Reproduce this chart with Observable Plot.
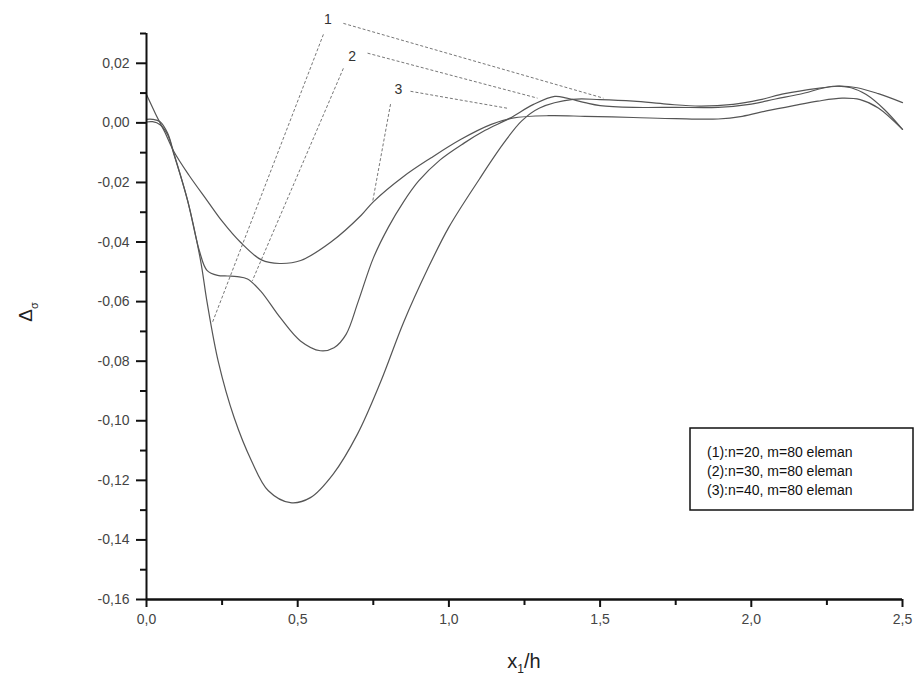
<!DOCTYPE html>
<html>
<head>
<meta charset="utf-8">
<script src="https://cdn.jsdelivr.net/npm/d3@7"></script>
<script src="https://cdn.jsdelivr.net/npm/@observablehq/plot@0.6"></script>
<style>
  html, body { margin: 0; padding: 0; background: #fff; }
  #chart svg { display: block; }
</style>
</head>
<body>
<div id="chart"></div>
<script>
// ---- data ----
const seriesNames = ["(1):n=20, m=80 eleman", "(2):n=30, m=80 eleman", "(3):n=40, m=80 eleman"];

const x1 = [0, 0.02, 0.045, 0.07, 0.09, 0.136, 0.179, 0.2, 0.238, 0.29, 0.347, 0.403, 0.476, 0.542, 0.618, 0.698, 0.774, 0.85, 0.93, 1.0, 1.1, 1.18, 1.24, 1.3, 1.41, 1.5, 1.61, 1.72, 1.83, 1.94, 2.03, 2.11, 2.22, 2.285, 2.35, 2.42, 2.5];
const y1 = [0.0003, 0.0004, -0.0006, -0.004, -0.0104, -0.0261, -0.0463, -0.060, -0.0804, -0.099, -0.1134, -0.1235, -0.1275, -0.1258, -0.1178, -0.1044, -0.087, -0.067, -0.049, -0.035, -0.019, -0.007, 0.0006, 0.005, 0.0079, 0.0078, 0.0073, 0.0063, 0.0056, 0.0062, 0.0078, 0.0098, 0.0116, 0.0123, 0.0118, 0.0098, 0.0068];

const x2 = [0, 0.02, 0.045, 0.07, 0.09, 0.136, 0.175, 0.2, 0.235, 0.268, 0.3, 0.334, 0.377, 0.443, 0.509, 0.575, 0.62, 0.66, 0.70, 0.75, 0.80, 0.85, 0.90, 0.97, 1.05, 1.12, 1.2, 1.28, 1.35, 1.39, 1.45, 1.5, 1.61, 1.75, 1.89, 2.0, 2.08, 2.16, 2.27, 2.33, 2.38, 2.44, 2.5];
const y2 = [0.0012, 0.0012, 0.0004, -0.0035, -0.010, -0.0261, -0.043, -0.0495, -0.0512, -0.0514, -0.0516, -0.0524, -0.0564, -0.0655, -0.0732, -0.0765, -0.0755, -0.071, -0.060, -0.0454, -0.035, -0.0265, -0.0195, -0.0125, -0.0068, -0.0025, 0.0015, 0.0062, 0.0089, 0.0083, 0.0068, 0.0058, 0.0052, 0.0052, 0.0052, 0.0063, 0.0080, 0.0096, 0.0123, 0.0118, 0.0095, 0.0045, -0.0022];

const x3 = [0, 0.03, 0.06, 0.09, 0.14, 0.2, 0.25, 0.31, 0.38, 0.44, 0.51, 0.61, 0.71, 0.75, 0.85, 0.94, 1.04, 1.14, 1.21, 1.33, 1.45, 1.61, 1.75, 1.89, 1.97, 2.05, 2.14, 2.22, 2.3, 2.36, 2.42, 2.5];
const y3 = [0.0095, 0.003, -0.003, -0.0095, -0.0175, -0.026, -0.033, -0.040, -0.046, -0.0472, -0.0462, -0.040, -0.031, -0.0265, -0.018, -0.0118, -0.0055, -0.0005, 0.0016, 0.0024, 0.0022, 0.0018, 0.0014, 0.0013, 0.0022, 0.004, 0.0058, 0.0073, 0.0083, 0.0078, 0.005, -0.0022];

// curve labels and dashed leader lines (data units)
const labelText = ["1", "2", "3"];
const labelX = [0.60, 0.68, 0.833];
const labelY = [0.0348, 0.0224, 0.0113];
const leftFromX = [0.585, 0.651, 0.807], leftFromY = [0.0297, 0.0183, 0.0063];
const leftToX = [0.218, 0.35, 0.747], leftToY = [-0.067, -0.053, -0.0269];
const rightFromX = [0.651, 0.731, 0.873], rightFromY = [0.0334, 0.0234, 0.0106];
const rightToX = [1.511, 1.293, 1.194], rightToY = [0.0083, 0.0083, 0.0049];

// ticks
const xMajor = [0, 0.5, 1.0, 1.5, 2.0, 2.5];
const xMinor = [0.25, 0.75, 1.25, 1.75, 2.25];
const yMajor = [-0.16, -0.14, -0.12, -0.10, -0.08, -0.06, -0.04, -0.02, 0.00, 0.02];
const yMinor = [-0.15, -0.13, -0.11, -0.09, -0.07, -0.05, -0.03, -0.01, 0.01, 0.03];

// ---- build tables ----
const pts = [];
[[x1, y1], [x2, y2], [x3, y3]].forEach(([xs, ys], i) => {
  xs.forEach((x, j) => pts.push({s: seriesNames[i], x, y: ys[j]}));
});
const labels = labelText.map((t, i) => ({t, x: labelX[i], y: labelY[i]}));
const leaders = [];
labelText.forEach((t, i) => {
  leaders.push({x1: leftFromX[i], y1: leftFromY[i], x2: leftToX[i], y2: leftToY[i]});
  leaders.push({x1: rightFromX[i], y1: rightFromY[i], x2: rightToX[i], y2: rightToY[i]});
});

const fmtY = d => d.toFixed(2).replace(".", ",");
const fmtX = d => d.toFixed(1).replace(".", ",");

const chart = Plot.plot({
  width: 916,
  height: 697,
  marginLeft: 146,
  marginRight: 14,
  marginTop: 33,
  marginBottom: 98,
  style: {fontFamily: "'Liberation Sans', Arial, sans-serif", fontSize: "14px", background: "#fff", overflow: "visible"},
  x: {domain: [0, 2.5]},
  y: {domain: [-0.16, 0.03]},
  marks: [
    Plot.link(leaders, {x1: "x1", y1: "y1", x2: "x2", y2: "y2", stroke: "#777", strokeWidth: 1, strokeDasharray: "3,2"}),
    Plot.line(pts, {x: "x", y: "y", z: "s", stroke: "#555", strokeWidth: 1.2, curve: "catmull-rom"}),
    Plot.text(labels, {x: "x", y: "y", text: "t", fill: "#333", fontSize: 14}),
    Plot.axisY({ticks: yMajor, tickSize: 10, tickPadding: 7, tickFormat: fmtY, stroke: "#111", strokeWidth: 2, fill: "#444", fontSize: 14, label: null}),
    Plot.axisY({ticks: yMinor, tickSize: 6, tickFormat: () => "", stroke: "#111", strokeWidth: 2, label: null}),
    Plot.axisX({ticks: xMajor, tickSize: 8, tickPadding: 7, tickFormat: fmtX, stroke: "#111", strokeWidth: 2, fill: "#444", fontSize: 14, label: null}),
    Plot.axisX({ticks: xMinor, tickSize: 6, tickFormat: () => "", stroke: "#111", strokeWidth: 2, label: null}),
    Plot.ruleX([0], {y1: -0.16, y2: 0.03, stroke: "#111", strokeWidth: 2}),
    Plot.ruleY([-0.16], {x1: 0, x2: 2.5, stroke: "#111", strokeWidth: 2.5})
  ]
});

const svg = d3.select(chart);
// enforce tick-label font size
svg.selectAll("g[aria-label$='tick label']").style("font-size", "14px")
  .selectAll("text").style("font-size", "14px");

// axis titles
const xt = svg.append("text")
  .attr("x", 524).attr("y", 668)
  .attr("text-anchor", "middle")
  .attr("font-size", 20).attr("fill", "#222");
xt.append("tspan").text("x");
xt.append("tspan").attr("font-size", 12).attr("dy", 5).text("1");
xt.append("tspan").attr("dy", -5).text("/h");

const yt = svg.append("text")
  .attr("transform", "translate(32,312) rotate(-90)")
  .attr("text-anchor", "middle")
  .attr("font-size", 19).attr("fill", "#222");
yt.append("tspan").text("Δ");
yt.append("tspan").attr("font-size", 11).attr("dy", 6).text("σ");

// legend box
const lg = svg.append("g").attr("text-anchor", "start");
lg.append("rect").attr("x", 690).attr("y", 428).attr("width", 223).attr("height", 82)
  .attr("fill", "#fff").attr("stroke", "#111").attr("stroke-width", 1.5);
seriesNames.forEach((name, i) => {
  lg.append("text").attr("x", 707).attr("y", 457 + i * 19)
    .attr("text-anchor", "start")
    .attr("font-size", 14).attr("fill", "#111").text(name);
});

document.getElementById("chart").appendChild(chart);
</script>
</body>
</html>
